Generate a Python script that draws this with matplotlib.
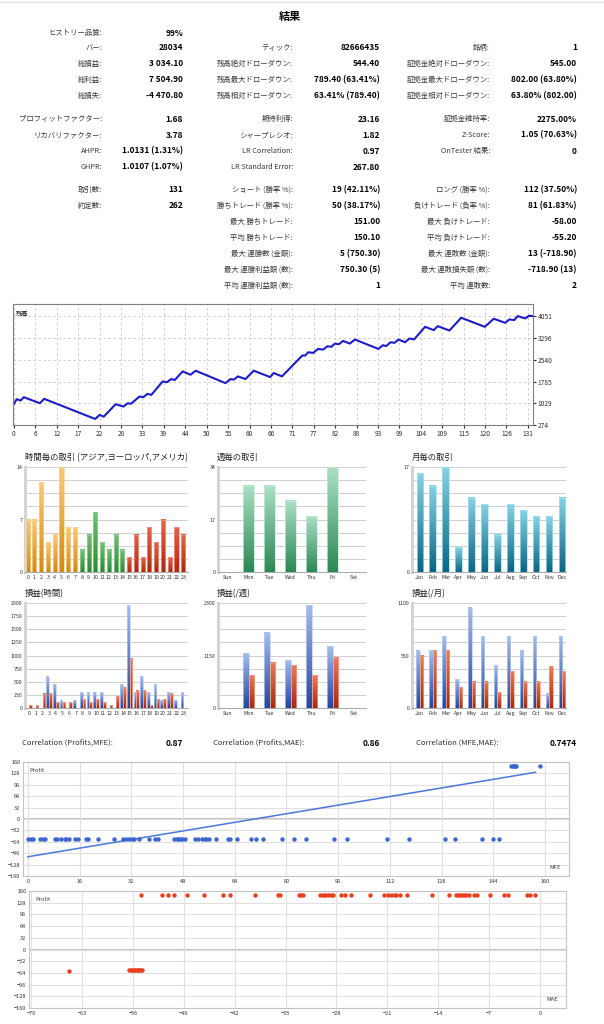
import numpy as np
import matplotlib
matplotlib.use('Agg')
import matplotlib.pyplot as plt
from matplotlib.colors import LinearSegmentedColormap
from matplotlib.patches import Rectangle

plt.rcParams['font.family'] = ['Noto Sans CJK JP', 'DejaVu Sans']

# ---- report table ----
rows_y = [33, 48, 64, 80, 96, 119, 135, 151, 167, 190, 206, 222, 238, 254, 270, 286]
col1_labels = ['ヒストリー品質:', 'バー:', '総損益:', '総利益:', '総損失:', 'プロフィットファクター:',
               'リカバリファクター:', 'AHPR:', 'GHPR:', '取引数:', '約定数:', '', '', '', '', '']
col1_values = ['99%', '28034', '3 034.10', '7 504.90', '-4 470.80', '1.68', '3.78',
               '1.0131 (1.31%)', '1.0107 (1.07%)', '131', '262', '', '', '', '', '']
col2_labels = ['', 'ティック:', '残高絶対ドローダウン:', '残高最大ドローダウン:', '残高相対ドローダウン:',
               '期待利得:', 'シャープレシオ:', 'LR Correlation:', 'LR Standard Error:',
               'ショート (勝率 %):', '勝ちトレード (勝率 %):', '最大 勝ちトレード:', '平均 勝ちトレード:',
               '最大 連勝数 (金額):', '最大 連勝利益額 (数):', '平均 連勝利益額 (数):']
col2_values = ['', '82666435', '544.40', '789.40 (63.41%)', '63.41% (789.40)', '23.16', '1.82',
               '0.97', '267.80', '19 (42.11%)', '50 (38.17%)', '151.00', '150.10',
               '5 (750.30)', '750.30 (5)', '1']
col3_labels = ['', '銘柄:', '証拠金絶対ドローダウン:', '証拠金最大ドローダウン:', '証拠金相対ドローダウン:',
               '証拠金維持率:', 'Z-Score:', 'OnTester 結果:', '', 'ロング (勝率 %):',
               '負けトレード (負率 %):', '最大 負けトレード:', '平均 負けトレード:',
               '最大 連敗数 (金額):', '最大 連敗損失額 (数):', '平均 連敗数:']
col3_values = ['', '1', '545.00', '802.00 (63.80%)', '63.80% (802.00)', '2275.00%', '1.05 (70.63%)',
               '0', '', '112 (37.50%)', '81 (61.83%)', '-58.00', '-55.20', '13 (-718.90)',
               '-718.90 (13)', '2']

# ---- balance curve (trade number, balance) ----
bal_t = [0, 0.7, 1.7, 2.5, 6.6, 7.7, 20.7, 21.8, 22.9, 25.9, 27.9, 29, 29.8, 32, 33, 34, 35,
         37.9, 39, 40, 41, 43, 45, 46.3, 53.9, 55.2, 56, 57.1, 59, 61.1, 65.3, 66.2, 68.3,
         73.5, 74.2, 75, 76.3, 77.5, 78.8, 79.9, 80.9, 81.8, 82.8, 83.9, 85.6, 86.9, 92.9,
         94, 94.9, 96, 97, 98, 99.7, 100.8, 102, 104.8, 107, 108, 111, 114, 120, 122.3,
         125.2, 126.3, 127.5, 128.4, 130.3, 131.3, 132.2]
bal_v = [1008, 1171, 1124, 1241, 1031, 1183, 484, 623, 565, 996, 915, 1031, 1010, 1264, 1241,
         1357, 1320, 1788, 1760, 1870, 1840, 2138, 2021, 2161, 1730, 1870, 1850, 1963, 1870,
         2161, 1940, 2080, 1963, 2690, 2686, 2802, 2780, 2918, 2895, 3012, 2990, 3105, 3080,
         3198, 3105, 3245, 2918, 3047, 3020, 3152, 3130, 3245, 3152, 3280, 3250, 3687, 3571,
         3711, 3559, 4002, 3687, 3967, 3827, 3944, 3920, 4060, 3979, 4070, 4060]
bal_yticks = [274, 1029, 1785, 2540, 3296, 4051]
bal_xlabels = ['0', '6', '12', '17', '22', '28', '33', '39', '44', '50', '55', '60', '66', '71',
               '77', '82', '88', '93', '99', '104', '109', '115', '120', '126', '131']

# ---- distributions ----
hours = [str(h) for h in range(24)]
hour_trades = [7, 7, 12, 4, 5, 14, 6, 6, 3, 5, 8, 4, 3, 5, 3, 2, 5, 2, 6, 4, 7, 2, 6, 5]
hour_profit = [0, 0, 0, 600, 450, 150, 0, 150, 300, 300, 300, 300, 0, 0, 450, 1950, 300, 600,
               300, 450, 150, 300, 150, 300]
hour_loss = [55, 55, 275, 275, 110, 110, 110, 0, 165, 110, 165, 110, 55, 220, 385, 935, 330, 330,
             55, 165, 165, 275, 0, 0]
days = ['Sun', 'Mon', 'Tue', 'Wed', 'Thu', 'Fri', 'Sat']
day_trades = [0, 28, 28, 23, 18, 34, 0]
day_profit = [0, 1200, 1650, 1050, 2250, 1350, 0]
day_loss = [0, 715, 990, 935, 715, 1100, 0]
months = ['Jan', 'Feb', 'Mar', 'Apr', 'May', 'Jun', 'Jul', 'Aug', 'Sep', 'Oct', 'Nov', 'Dec']
month_trades = [16, 14, 17, 4, 12, 11, 6, 11, 10, 9, 9, 12]
month_profit = [600, 600, 750, 300, 1050, 750, 450, 750, 600, 750, 150, 750]
month_loss = [550, 605, 605, 220, 275, 275, 165, 385, 275, 275, 440, 385]

# ---- MFE / MAE scatter ----
mfe_loss = [0.2, 0.9, 1.7, 3.8, 4.8, 5.3, 8.4, 9.1, 10.4, 11.4, 11.9, 12.6, 14.5, 15.5, 18.0,
            18.6, 21.6, 26.7, 29.3, 30.3, 31.3, 32.1, 32.8, 34.4, 37.4, 39.4, 40.3, 45.1, 46.1,
            46.6, 47.1, 47.6, 48.6, 51.7, 52.7, 53.9, 54.7, 55.2, 56.0, 58.3, 61.9, 62.6, 64.7,
            69.0, 70.5, 72.8, 78.7, 82.3, 86.0, 94.7, 98.7, 111.0, 118.0, 129.0, 132.0, 140.6,
            143.9, 145.8]
mfe_win = [149.6, 150.0, 150.3, 150.7, 151.1, 158.5]
mfe_reg_x = [0, 157]
mfe_reg_y = [-106, 131]
mae_win = [-54.85, -51.98, -51.2, -50.3, -48.6, -46.2, -43.6, -42.6, -39.2, -36.1, -35.8, -33.2,
           -32.9, -32.6, -30.3, -29.9, -29.5, -29.1, -28.7, -28.4, -27.4, -26.8, -26.0, -23.4,
           -21.5, -20.9, -20.5, -20.1, -19.8, -19.2, -18.3, -14.9, -12.5, -11.5, -11.2, -11.0,
           -10.7, -10.4, -10.2, -9.8, -9.1, -8.7, -6.9, -5.0, -4.4, -1.7, -1.4, -0.6]
mae_loss = [-64.8, -56.5, -56.3, -56.1, -55.9, -55.7, -55.5, -55.3, -55.1, -54.9, -54.8]
mae_loss_profit = [-58, -55, -56, -55, -56, -57, -55, -56, -55, -56, -55]

W, H = 604, 1024
fig = plt.figure(figsize=(W / 100, H / 100), dpi=100)


def px_axes(l, t, r, b):
    return fig.add_axes([l / W, 1 - b / H, (r - l) / W, (b - t) / H])


def ftext(x, y, s, **kw):
    fig.text(x / W, 1 - y / H, s, va='center', **kw)


# thin separator at the very top
fig.add_artist(plt.Line2D([0, 1], [1 - 2 / H, 1 - 2 / H], color='#e4e4e4', lw=1))

# table
ftext(290, 16, '結果', ha='center', fontsize=8, fontweight='bold')
for labs, vals, lx, vx in [(col1_labels, col1_values, 102, 183),
                           (col2_labels, col2_values, 293, 380),
                           (col3_labels, col3_values, 490, 577)]:
    for y, lab, val in zip(rows_y, labs, vals):
        if lab:
            ftext(lx, y, lab, ha='right', fontsize=5.3, color='#3a3a3a')
        if val:
            ftext(vx, y, val, ha='right', fontsize=6, fontweight='bold')

# balance chart
ax = px_axes(13, 304, 533, 425)
ax.plot(bal_t, bal_v, color='#1c1cc8', lw=1.5)
ax.set_xlim(-0.25, 132.3)
ax.set_ylim(274, 4480)
ax.set_xticks(np.arange(25) * 131 / 24)
ax.set_xticklabels(bal_xlabels)
ax.set_yticks(bal_yticks)
ax.yaxis.tick_right()
ax.grid(True, ls=(0, (3, 3)), color='#c8c8c8', lw=0.6)
ax.tick_params(labelsize=4.8, length=2, pad=1.5, colors='#303030')
for s in ax.spines.values():
    s.set_color('#808080')
ax.text(0.006, 0.95, '残高', transform=ax.transAxes, fontsize=4.5, va='top')


def grad_bar(ax, x, h, w, top, bottom, edge):
    if h <= 0:
        return
    cmap = LinearSegmentedColormap.from_list('g', [bottom, top])
    grad = np.linspace(0, 1, 64).reshape(-1, 1)
    ax.imshow(grad, extent=(x - w / 2, x + w / 2, 0, h), origin='lower', cmap=cmap,
              aspect='auto', zorder=2, interpolation='bilinear')
    ax.add_patch(Rectangle((x - w / 2, 0), w, h, fill=False, ec=edge, lw=0.5, zorder=3))


def style(ax, ymax, yt, cats, xlim, title, tx):
    ax.set_xlim(xlim)
    ax.set_ylim(0, ymax)
    for v in np.linspace(0, ymax, 9):
        ax.axhline(v, color='#c8c8c8', lw=0.6, zorder=0)
    ax.set_yticks(yt)
    ax.set_yticklabels([str(v) for v in yt])
    ax.set_xticks(range(len(cats)))
    ax.set_xticklabels(cats)
    ax.spines['top'].set_visible(False)
    ax.spines['right'].set_visible(False)
    ax.spines['left'].set_color('#d4d4d4')
    ax.spines['left'].set_linewidth(2.2)
    ax.spines['bottom'].set_color('#a8a8a8')
    ax.spines['bottom'].set_linewidth(0.7)
    ax.tick_params(length=0, labelsize=3.8, pad=2, colors='#303030')
    pos = ax.get_position()
    fig.text(tx / W, pos.y1 + 5 / H, title, fontsize=6, color='#202020', va='bottom')


row1 = (467, 572)
row2 = (603, 708)
cols = [(25, 188), (218, 366), (412, 566)]

# trades per hour
ax = px_axes(cols[0][0], row1[0], cols[0][1], row1[1])
for i, v in enumerate(hour_trades):
    if i < 8:
        c = ('#fbc978', '#d48a12', '#f6d49a')
    elif i < 15:
        c = ('#72c276', '#2b8a33', '#9ed4a0')
    else:
        c = ('#e2664c', '#b0280e', '#eea08e')
    grad_bar(ax, i, v, 0.6, *c)
style(ax, 14, [0, 7, 14], hours, (-0.4, 23.7), '時間毎の取引 (アジア,ヨーロッパ,アメリカ)', 25)

# trades per weekday
ax = px_axes(cols[1][0], row1[0], cols[1][1], row1[1])
for i, v in enumerate(day_trades):
    grad_bar(ax, i, v, 0.5, '#acdfc4', '#2c8856', '#c6eed8')
style(ax, 34, [0, 17, 34], days, (-0.45, 6.6), '週毎の取引', 217)

# trades per month
ax = px_axes(cols[2][0], row1[0], cols[2][1], row1[1])
for i, v in enumerate(month_trades):
    grad_bar(ax, i, v, 0.5, '#86d2e4', '#0a6684', '#a8e2ee')
style(ax, 17, [0, 17], months, (-0.6, 11.3), '月毎の取引', 412)

blue = ('#a4bcec', '#26459c', '#b8cdf2')
red = ('#ec7a5c', '#a8280e', '#f2a48e')

# profit / loss per hour
ax = px_axes(cols[0][0], row2[0], cols[0][1], row2[1])
for i in range(24):
    grad_bar(ax, i - 0.21, hour_profit[i], 0.4, *blue)
    grad_bar(ax, i + 0.21, hour_loss[i], 0.4, *red)
style(ax, 2000, list(range(0, 2001, 250)), hours, (-0.6, 23.7), '損益(時間)', 25)

# profit / loss per weekday
ax = px_axes(cols[1][0], row2[0], cols[1][1], row2[1])
for i in range(7):
    grad_bar(ax, i - 0.12, day_profit[i], 0.25, *blue)
    grad_bar(ax, i + 0.13, day_loss[i], 0.25, *red)
style(ax, 2300, [0, 1150, 2300], days, (-0.45, 6.6), '損益(/週)', 217)

# profit / loss per month
ax = px_axes(cols[2][0], row2[0], cols[2][1], row2[1])
for i in range(12):
    grad_bar(ax, i - 0.13, month_profit[i], 0.26, *blue)
    grad_bar(ax, i + 0.13, month_loss[i], 0.26, *red)
style(ax, 1100, [0, 550, 1100], months, (-0.6, 11.3), '損益(/月)', 412)

# correlations
ftext(22, 743, 'Correlation (Profits,MFE):', ha='left', fontsize=5.5, color='#303030')
ftext(183, 743, '0.87', ha='right', fontsize=6, fontweight='bold')
ftext(213, 743, 'Correlation (Profits,MAE):', ha='left', fontsize=5.5, color='#303030')
ftext(380, 743, '0.86', ha='right', fontsize=6, fontweight='bold')
ftext(416, 743, 'Correlation (MFE,MAE):', ha='left', fontsize=5.5, color='#303030')
ftext(577, 743, '0.7474', ha='right', fontsize=6, fontweight='bold')


def style_scatter(ax, xlim, xt, xname):
    ax.set_xlim(xlim)
    ax.set_ylim(-160, 160)
    ax.set_xticks(xt)
    ax.set_yticks(range(-160, 161, 32))
    ax.grid(True, color='#e0e0e0', lw=0.8, zorder=0)
    ax.axhline(0, color='#b4b4b4', lw=1.2, zorder=1)
    for s in ax.spines.values():
        s.set_color('#c4c4c4')
    ax.tick_params(length=0, labelsize=4, pad=2, colors='#303030')
    ax.text(0.012, 0.95, 'Profit', transform=ax.transAxes, fontsize=4.2, va='top', color='#404040')
    ax.text(0.985, 0.05, xname, transform=ax.transAxes, fontsize=4.2, ha='right',
            va='bottom', color='#404040')


ax = px_axes(23, 762, 569, 876)
ax.plot(mfe_reg_x, mfe_reg_y, color='#4a78d8', lw=1.1, zorder=3)
ax.scatter(mfe_loss, [-55] * len(mfe_loss), s=10, color='#3a64d0', zorder=4, lw=0)
ax.scatter(mfe_win, [150] * len(mfe_win), s=10, color='#3a64d0', zorder=4, lw=0)
style_scatter(ax, (-1.5, 167.4), list(range(0, 161, 16)), 'MFE')

ax = px_axes(29, 891, 566, 1008)
ax.scatter(mae_win, [150] * len(mae_win), s=10, color='#e8401c', zorder=4, lw=0)
ax.scatter(mae_loss, mae_loss_profit, s=10, color='#e8401c', zorder=4, lw=0)
style_scatter(ax, (-70.3, 3.6), list(range(-70, 1, 7)), 'MAE')

fig.savefig('out.png', dpi=100)
